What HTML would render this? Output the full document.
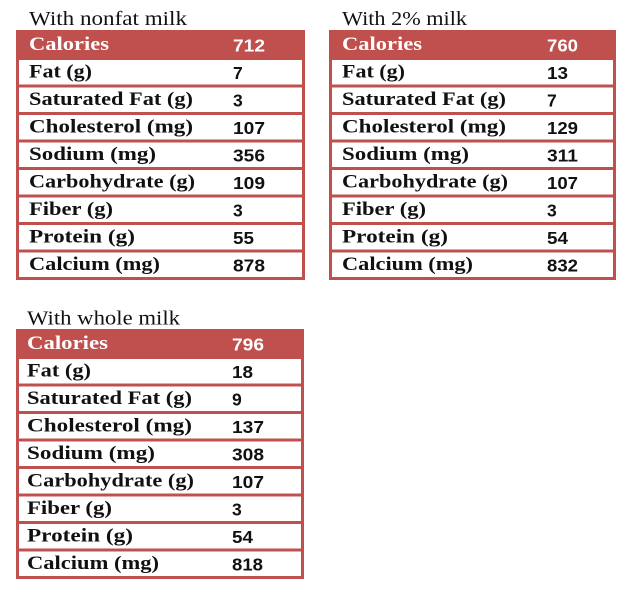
<!DOCTYPE html>
<html>
<head>
<meta charset="utf-8">
<style>
html,body{margin:0;padding:0;background:#fff;}
body{width:635px;height:598px;overflow:hidden;}
svg{display:block;}
.t{font-family:"Liberation Serif",serif;font-size:20px;fill:#111;}
.l{font-family:"Liberation Serif",serif;font-weight:bold;font-size:19px;fill:#111;}
.v{font-family:"Liberation Sans",sans-serif;font-weight:bold;font-size:17.5px;fill:#111;}
.h{fill:#fff;}
</style>
</head>
<body>
<svg width="635" height="598" viewBox="0 0 635 598" xmlns="http://www.w3.org/2000/svg">
<!-- Table 1 -->
<g>
<text class="t" x="29" y="25" textLength="158" lengthAdjust="spacingAndGlyphs">With nonfat milk</text>
<rect x="16" y="30" width="289" height="30" fill="#C0504D"/>
<rect x="17.5" y="31.5" width="286" height="247" fill="none" stroke="#C0504D" stroke-width="3"/>
<g fill="#C0504D">
<rect x="16" y="84.5" width="289" height="3"/>
<rect x="16" y="112" width="289" height="3"/>
<rect x="16" y="139.5" width="289" height="3"/>
<rect x="16" y="167" width="289" height="3"/>
<rect x="16" y="194.5" width="289" height="3"/>
<rect x="16" y="222" width="289" height="3"/>
<rect x="16" y="249.5" width="289" height="3"/>
</g>
<text class="l h" x="29" y="50" textLength="80" lengthAdjust="spacingAndGlyphs">Calories</text>
<text class="l" x="29" y="77.5" textLength="63" lengthAdjust="spacingAndGlyphs">Fat (g)</text>
<text class="l" x="29" y="105" textLength="164" lengthAdjust="spacingAndGlyphs">Saturated Fat (g)</text>
<text class="l" x="29" y="132.5" textLength="164" lengthAdjust="spacingAndGlyphs">Cholesterol (mg)</text>
<text class="l" x="29" y="160" textLength="127" lengthAdjust="spacingAndGlyphs">Sodium (mg)</text>
<text class="l" x="29" y="187.5" textLength="166" lengthAdjust="spacingAndGlyphs">Carbohydrate (g)</text>
<text class="l" x="29" y="215" textLength="84" lengthAdjust="spacingAndGlyphs">Fiber (g)</text>
<text class="l" x="29" y="242.5" textLength="106" lengthAdjust="spacingAndGlyphs">Protein (g)</text>
<text class="l" x="29" y="270" textLength="131" lengthAdjust="spacingAndGlyphs">Calcium (mg)</text>
<text class="v h" x="233" y="51.5" textLength="32" lengthAdjust="spacingAndGlyphs">712</text>
<text class="v" x="233" y="79">7</text>
<text class="v" x="233" y="106.5">3</text>
<text class="v" x="233" y="134" textLength="32" lengthAdjust="spacingAndGlyphs">107</text>
<text class="v" x="233" y="161.5" textLength="32" lengthAdjust="spacingAndGlyphs">356</text>
<text class="v" x="233" y="189" textLength="32" lengthAdjust="spacingAndGlyphs">109</text>
<text class="v" x="233" y="216.5">3</text>
<text class="v" x="233" y="244" textLength="21" lengthAdjust="spacingAndGlyphs">55</text>
<text class="v" x="233" y="271.5" textLength="32" lengthAdjust="spacingAndGlyphs">878</text>
</g>
<!-- Table 2 -->
<g>
<text class="t" x="342" y="25" textLength="125" lengthAdjust="spacingAndGlyphs">With 2% milk</text>
<rect x="329" y="30" width="287" height="30" fill="#C0504D"/>
<rect x="330.5" y="31.5" width="284" height="247" fill="none" stroke="#C0504D" stroke-width="3"/>
<g fill="#C0504D">
<rect x="329" y="84.5" width="287" height="3"/>
<rect x="329" y="112" width="287" height="3"/>
<rect x="329" y="139.5" width="287" height="3"/>
<rect x="329" y="167" width="287" height="3"/>
<rect x="329" y="194.5" width="287" height="3"/>
<rect x="329" y="222" width="287" height="3"/>
<rect x="329" y="249.5" width="287" height="3"/>
</g>
<text class="l h" x="342" y="50" textLength="80" lengthAdjust="spacingAndGlyphs">Calories</text>
<text class="l" x="342" y="77.5" textLength="63" lengthAdjust="spacingAndGlyphs">Fat (g)</text>
<text class="l" x="342" y="105" textLength="164" lengthAdjust="spacingAndGlyphs">Saturated Fat (g)</text>
<text class="l" x="342" y="132.5" textLength="164" lengthAdjust="spacingAndGlyphs">Cholesterol (mg)</text>
<text class="l" x="342" y="160" textLength="127" lengthAdjust="spacingAndGlyphs">Sodium (mg)</text>
<text class="l" x="342" y="187.5" textLength="166" lengthAdjust="spacingAndGlyphs">Carbohydrate (g)</text>
<text class="l" x="342" y="215" textLength="84" lengthAdjust="spacingAndGlyphs">Fiber (g)</text>
<text class="l" x="342" y="242.5" textLength="106" lengthAdjust="spacingAndGlyphs">Protein (g)</text>
<text class="l" x="342" y="270" textLength="131" lengthAdjust="spacingAndGlyphs">Calcium (mg)</text>
<text class="v h" x="547" y="51.5" textLength="31" lengthAdjust="spacingAndGlyphs">760</text>
<text class="v" x="547" y="79" textLength="21" lengthAdjust="spacingAndGlyphs">13</text>
<text class="v" x="547" y="106.5">7</text>
<text class="v" x="547" y="134" textLength="31" lengthAdjust="spacingAndGlyphs">129</text>
<text class="v" x="547" y="161.5" textLength="31" lengthAdjust="spacingAndGlyphs">311</text>
<text class="v" x="547" y="189" textLength="31" lengthAdjust="spacingAndGlyphs">107</text>
<text class="v" x="547" y="216.5">3</text>
<text class="v" x="547" y="244" textLength="21" lengthAdjust="spacingAndGlyphs">54</text>
<text class="v" x="547" y="271.5" textLength="31" lengthAdjust="spacingAndGlyphs">832</text>
</g>
<!-- Table 3 -->
<g>
<text class="t" x="27" y="324.5" textLength="153" lengthAdjust="spacingAndGlyphs">With whole milk</text>
<rect x="16" y="329" width="288" height="30" fill="#C0504D"/>
<rect x="17.5" y="330.5" width="285" height="247" fill="none" stroke="#C0504D" stroke-width="3"/>
<g fill="#C0504D">
<rect x="16" y="383.5" width="288" height="3"/>
<rect x="16" y="411" width="288" height="3"/>
<rect x="16" y="438.5" width="288" height="3"/>
<rect x="16" y="466" width="288" height="3"/>
<rect x="16" y="493.5" width="288" height="3"/>
<rect x="16" y="521" width="288" height="3"/>
<rect x="16" y="548.5" width="288" height="3"/>
</g>
<text class="l h" x="27" y="349" textLength="81" lengthAdjust="spacingAndGlyphs">Calories</text>
<text class="l" x="27" y="376.5" textLength="64" lengthAdjust="spacingAndGlyphs">Fat (g)</text>
<text class="l" x="27" y="404" textLength="165" lengthAdjust="spacingAndGlyphs">Saturated Fat (g)</text>
<text class="l" x="27" y="431.5" textLength="165" lengthAdjust="spacingAndGlyphs">Cholesterol (mg)</text>
<text class="l" x="27" y="459" textLength="128" lengthAdjust="spacingAndGlyphs">Sodium (mg)</text>
<text class="l" x="27" y="486.5" textLength="167" lengthAdjust="spacingAndGlyphs">Carbohydrate (g)</text>
<text class="l" x="27" y="514" textLength="85" lengthAdjust="spacingAndGlyphs">Fiber (g)</text>
<text class="l" x="27" y="541.5" textLength="106" lengthAdjust="spacingAndGlyphs">Protein (g)</text>
<text class="l" x="27" y="569" textLength="132" lengthAdjust="spacingAndGlyphs">Calcium (mg)</text>
<text class="v h" x="232" y="350.5" textLength="32" lengthAdjust="spacingAndGlyphs">796</text>
<text class="v" x="232" y="378" textLength="21" lengthAdjust="spacingAndGlyphs">18</text>
<text class="v" x="232" y="405.5">9</text>
<text class="v" x="232" y="433" textLength="32" lengthAdjust="spacingAndGlyphs">137</text>
<text class="v" x="232" y="460.5" textLength="32" lengthAdjust="spacingAndGlyphs">308</text>
<text class="v" x="232" y="488" textLength="32" lengthAdjust="spacingAndGlyphs">107</text>
<text class="v" x="232" y="515.5">3</text>
<text class="v" x="232" y="543" textLength="21" lengthAdjust="spacingAndGlyphs">54</text>
<text class="v" x="232" y="570.5" textLength="31" lengthAdjust="spacingAndGlyphs">818</text>
</g>
</svg>
</body>
</html>
